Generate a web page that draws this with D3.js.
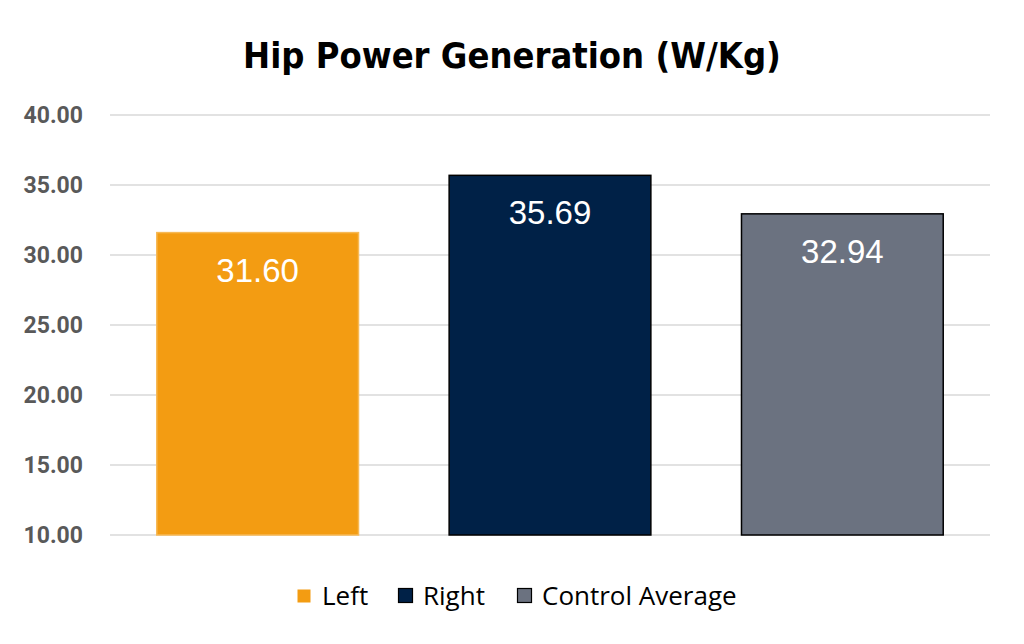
<!DOCTYPE html>
<html>
<head>
<meta charset="utf-8">
<script src="https://cdn.jsdelivr.net/npm/d3@7"></script>
<style>
  html, body { margin: 0; padding: 0; background: #fff; }
  svg { display: block; }
</style>
</head>
<body>
<svg id="chart" width="1024" height="644"></svg>
<script>
const categories = ["Left", "Right", "Control Average"];
const values = [31.60, 35.69, 32.94];
const colors = ["#F39C12", "#002147", "#6B7280"];
const strokes = ["#F7B955", "#000000", "#000000"];
const yTicks = [10, 15, 20, 25, 30, 35, 40];
const title = "Hip Power Generation (W/Kg)";

const svg = d3.select("#chart");
const W = 1024, H = 644;
const margin = { left: 110, right: 34, top: 115, bottom: 109 };

const x = d3.scaleBand().domain(categories).range([margin.left, W - margin.right]).paddingInner(0.31).paddingOuter(0.16);
const y = d3.scaleLinear().domain([10, 40]).range([H - margin.bottom, margin.top]);

// gridlines
svg.append("g").selectAll("line").data(yTicks).join("line")
  .attr("x1", margin.left).attr("x2", W - margin.right)
  .attr("y1", d => y(d)).attr("y2", d => y(d))
  .attr("stroke", "#D9D9D9").attr("stroke-width", 1.5);

// y axis labels
const yAxis = d3.axisLeft(y).tickValues(yTicks).tickFormat(d3.format(".2f")).tickSize(0).tickPadding(27);
const ga = svg.append("g").attr("transform", `translate(${margin.left},0)`).call(yAxis);
ga.select(".domain").remove();
ga.selectAll("text").attr("font-family", "Roboto, 'Liberation Sans', sans-serif")
  .attr("font-weight", "bold").attr("font-size", 23).attr("fill", "#595959");

// bars
svg.append("g").selectAll("rect").data(values).join("rect")
  .attr("x", (d, i) => x(categories[i]))
  .attr("width", x.bandwidth())
  .attr("y", d => y(d))
  .attr("height", d => y(10) - y(d))
  .attr("fill", (d, i) => colors[i])
  .attr("stroke", (d, i) => strokes[i])
  .attr("stroke-width", 1.5);

// value labels
svg.append("g").selectAll("text").data(values).join("text")
  .attr("x", (d, i) => x(categories[i]) + x.bandwidth() / 2)
  .attr("y", d => y(d) + 49)
  .attr("text-anchor", "middle")
  .attr("font-family", "'Liberation Sans', Arial, sans-serif")
  .attr("font-size", 33)
  .attr("fill", "#ffffff")
  .text(d => d.toFixed(2));

// title
svg.append("text")
  .attr("x", 512).attr("y", 68)
  .attr("text-anchor", "middle")
  .attr("font-family", "'Liberation Sans Narrow', 'DejaVu Sans Condensed', sans-serif")
  .attr("font-weight", "bold")
  .attr("font-size", 36)
  .attr("fill", "#000")
  .text(title);

// legend
const legendItems = [
  { name: categories[0], sx: 297 },
  { name: categories[1], sx: 398 },
  { name: categories[2], sx: 517 }
];
const lg = svg.append("g");
legendItems.forEach((it, i) => {
  const s = i === 0 ? 13 : 14;
  lg.append("rect").attr("x", it.sx + 0.5).attr("y", i === 0 ? 589.5 : 588.5).attr("width", s).attr("height", s)
    .attr("fill", colors[i]).attr("stroke", i === 0 ? "none" : "#000").attr("stroke-width", 1.2);
  lg.append("text").attr("x", it.sx + 25).attr("y", 605)
    .attr("font-family", "'Open Sans', 'Noto Sans', sans-serif")
    .attr("font-size", 26).attr("fill", "#000").text(it.name);
});
</script>
</body>
</html>
